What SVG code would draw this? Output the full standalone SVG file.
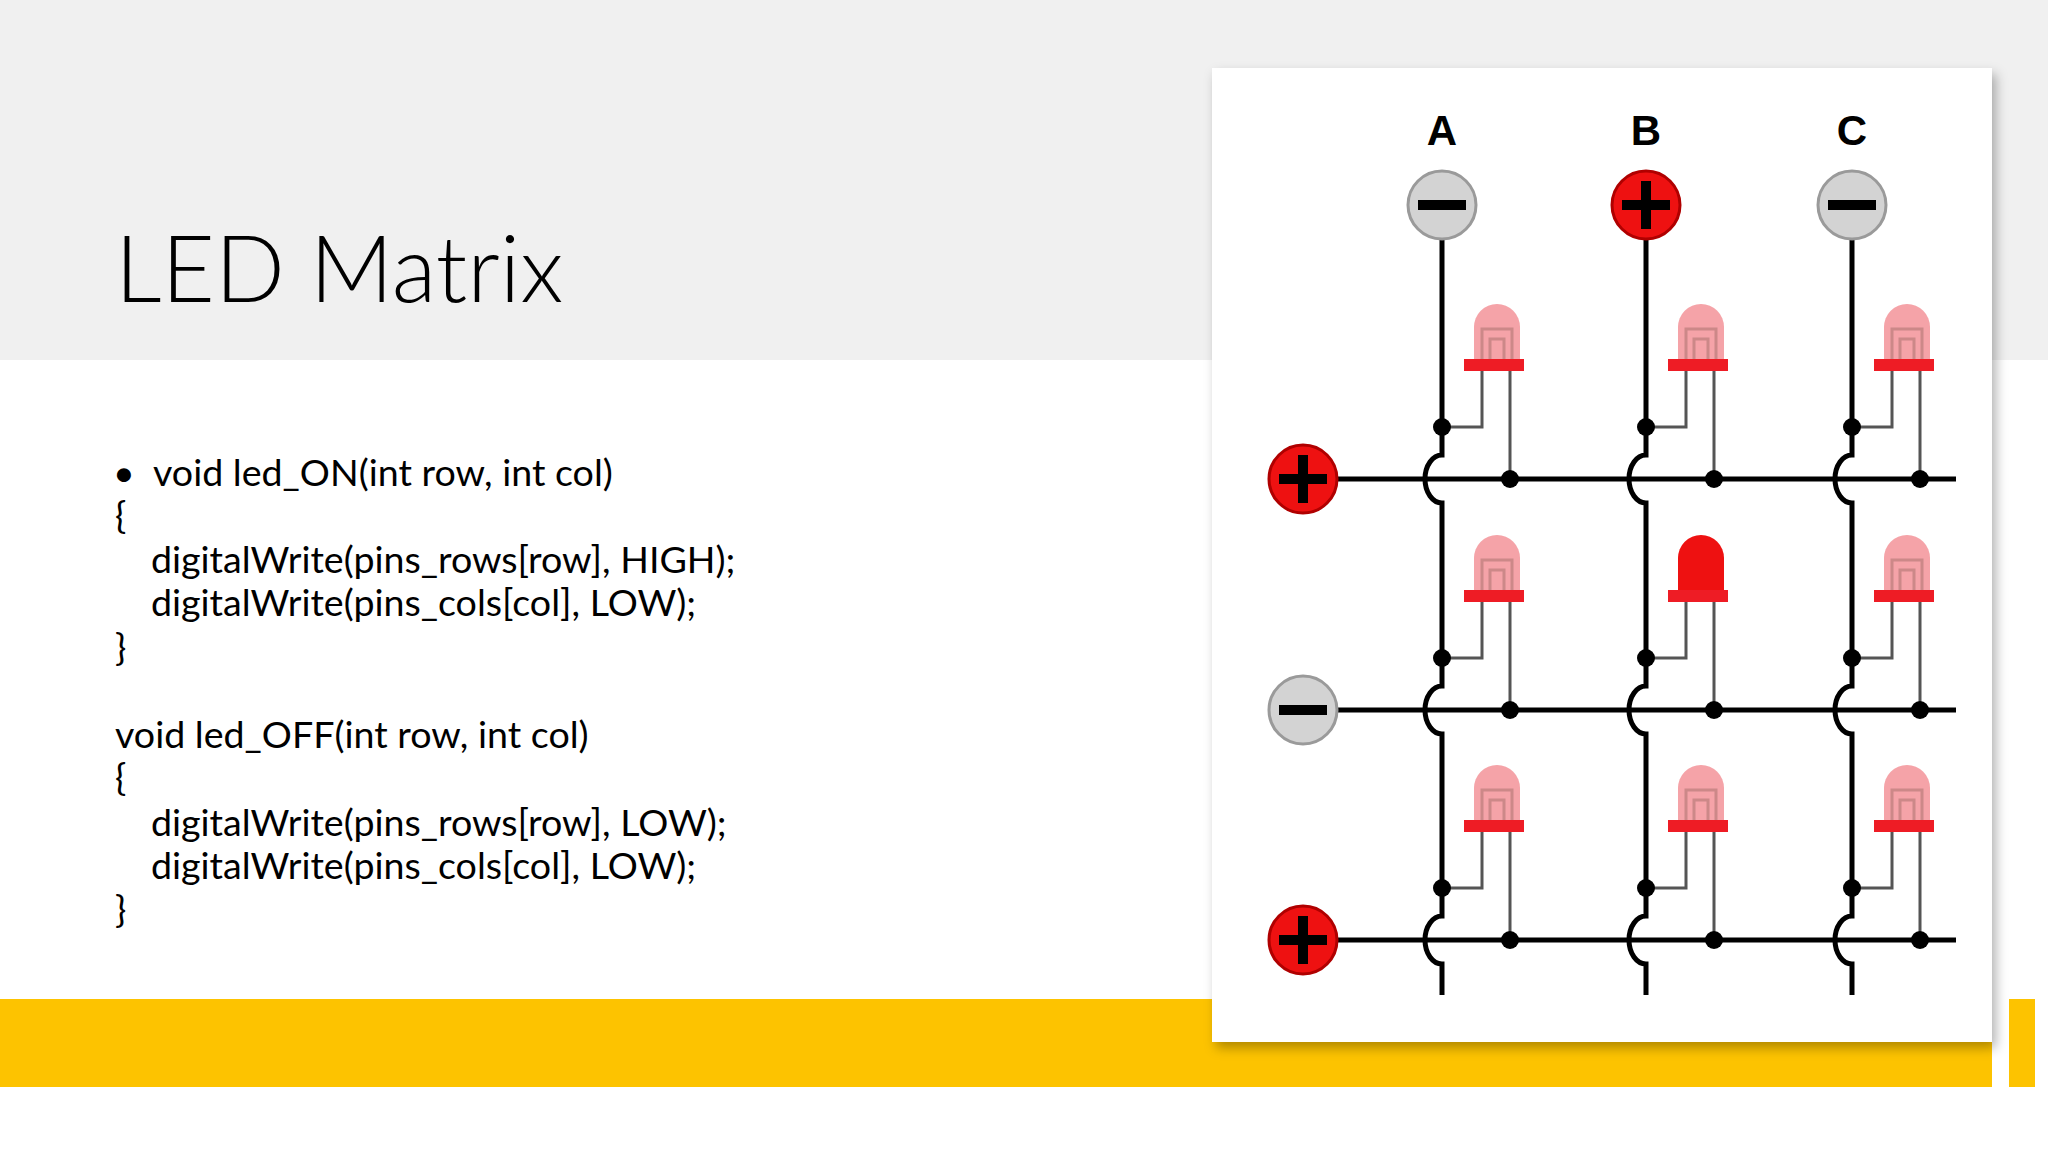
<svg xmlns="http://www.w3.org/2000/svg" width="2048" height="1152" viewBox="0 0 2048 1152">
<defs>
<style>
.code{font-family:Lato,"Liberation Sans",sans-serif;font-size:37.6px;fill:#000}
.wire{stroke:#000;stroke-width:5;fill:none}
.lead{stroke:#555;stroke-width:3;fill:none}
.lbl{font-family:"Liberation Sans",sans-serif;font-weight:bold;font-size:42px;text-anchor:middle}
.minus{fill:#d3d3d3;stroke:#9a9a9a;stroke-width:3}
.plus{fill:#ee1111;stroke:#b00000;stroke-width:3}
.dome{fill:#f5a3a8}
.flange{fill:#ee1c25}
</style>
<filter id="sh" x="-5%" y="-5%" width="110%" height="110%"><feDropShadow dx="4" dy="6" stdDeviation="6" flood-opacity="0.3"/></filter>
<g id="ledp">
<path class="lead" d="M40,-108 V-52 H0 M68,-108 V0"/>
<circle cx="0" cy="-52" r="9"/><circle cx="68" cy="0" r="9"/>
<path class="dome" d="M32,-120 V-152 A23,23 0 0 1 78,-152 V-120 Z"/>
<path d="M40,-120 V-150 H70 V-120 M48,-120 V-140 H62 V-120" fill="none" stroke="#c88" stroke-width="3"/>
<rect class="flange" x="22" y="-120" width="60" height="12"/>
</g>
</defs>
<rect width="2048" height="1152" fill="#fff"/>
<rect width="2048" height="360" fill="#f0f0f0"/>
<rect x="0" y="999" width="1992" height="88" fill="#fdc300"/>
<rect x="2009" y="999" width="26" height="88" fill="#fdc300"/>
<text x="115" y="302" font-family="Lato,'Open Sans',sans-serif" font-weight="300" font-size="92">LED Matrix</text>
<g id="code" class="code">
<text x="113" y="486">•</text>
<text x="153" y="486">void led_ON(int row, int col)</text>
<text x="115" y="529">{</text>
<text x="151" y="573">digitalWrite(pins_rows[row], HIGH);</text>
<text x="151" y="616">digitalWrite(pins_cols[col], LOW);</text>
<text x="115" y="661">}</text>
<text x="115" y="748">void led_OFF(int row, int col)</text>
<text x="115" y="791">{</text>
<text x="151" y="836">digitalWrite(pins_rows[row], LOW);</text>
<text x="151" y="879">digitalWrite(pins_cols[col], LOW);</text>
<text x="115" y="923">}</text>
</g>
<rect id="panel" x="1212" y="68" width="780" height="974" fill="#fff" filter="url(#sh)"/>
<g id="connectors" class="wire">
<path d="M1337,479 H1956 M1337,710 H1956 M1337,940 H1956"/>
<path d="M1442,240 V455 A17,24 0 0 0 1442,503 V686 A17,24 0 0 0 1442,734 V916 A17,24 0 0 0 1442,964 V995"/>
<path d="M1646,240 V455 A17,24 0 0 0 1646,503 V686 A17,24 0 0 0 1646,734 V916 A17,24 0 0 0 1646,964 V995"/>
<path d="M1852,240 V455 A17,24 0 0 0 1852,503 V686 A17,24 0 0 0 1852,734 V916 A17,24 0 0 0 1852,964 V995"/>
</g>
<g id="leds">
<use href="#ledp" x="1442" y="479"/><use href="#ledp" x="1646" y="479"/><use href="#ledp" x="1852" y="479"/>
<use href="#ledp" x="1442" y="710"/>
<g id="led-on" transform="translate(1646,710)">
<path class="lead" d="M40,-108 V-52 H0 M68,-108 V0"/>
<circle cx="0" cy="-52" r="9"/><circle cx="68" cy="0" r="9"/>
<path d="M32,-120 V-152 A23,23 0 0 1 78,-152 V-120 Z" fill="#ee1111"/>
<rect class="flange" x="22" y="-120" width="60" height="12"/>
</g>
<use href="#ledp" x="1852" y="710"/>
<use href="#ledp" x="1442" y="940"/><use href="#ledp" x="1646" y="940"/><use href="#ledp" x="1852" y="940"/>
</g>
<g id="colA"><text class="lbl" x="1442" y="145">A</text><circle class="minus" cx="1442" cy="205" r="34"/><rect x="1418" y="200" width="48" height="10"/></g>
<g id="colB"><text class="lbl" x="1646" y="145">B</text><circle class="plus" cx="1646" cy="205" r="34"/><rect x="1622" y="200" width="48" height="10"/><rect x="1641" y="181" width="10" height="48"/></g>
<g id="colC"><text class="lbl" x="1852" y="145">C</text><circle class="minus" cx="1852" cy="205" r="34"/><rect x="1828" y="200" width="48" height="10"/></g>
<g id="row1"><circle class="plus" cx="1303" cy="479" r="34"/><rect x="1279" y="474" width="48" height="10"/><rect x="1298" y="455" width="10" height="48"/></g>
<g id="row2"><circle class="minus" cx="1303" cy="710" r="34"/><rect x="1279" y="705" width="48" height="10"/></g>
<g id="row3"><circle class="plus" cx="1303" cy="940" r="34"/><rect x="1279" y="935" width="48" height="10"/><rect x="1298" y="916" width="10" height="48"/></g>
</svg>
